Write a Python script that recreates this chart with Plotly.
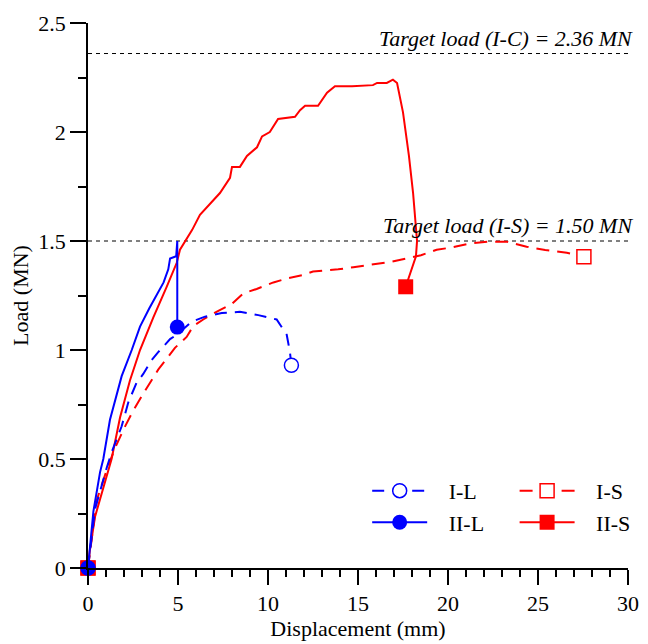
import plotly.graph_objects as go

# ---------------- data ----------------
# I-L (blue dashed, open circle)
il_x = [0, 0.39, 1.04, 1.31, 1.59, 1.87, 2.24, 2.7, 3.07, 3.5, 3.9, 4.56, 4.93,
        5.76, 6.5, 7.43, 8.44, 9.46, 10.48, 11.04, 11.22, 11.3]
il_y = [0, 0.27, 0.46, 0.53, 0.59, 0.65, 0.76, 0.85, 0.89, 0.95, 0.99, 1.05, 1.07,
        1.13, 1.153, 1.17, 1.175, 1.16, 1.14, 1.07, 0.99, 0.93]

# II-L (blue solid, filled circle)
iil_x = [0, 0.3, 0.67, 0.85, 1.22, 1.87, 2.43, 2.89, 3.4, 3.81, 4.2, 4.46, 4.56,
         4.9, 4.96, 4.96]
iil_y = [0, 0.26, 0.44, 0.5, 0.68, 0.88, 1.0, 1.107, 1.19, 1.25, 1.31, 1.37, 1.42,
         1.43, 1.50, 1.105]

# I-S (red dashed, open square)
is_x = [0, 0.48, 1.04, 1.5, 2.0, 2.5, 3.07, 3.54, 3.9, 4.28, 4.83,
        5.48, 5.85, 6.4, 7.24, 7.98, 8.63, 9.37, 10.3, 11.13, 11.96, 12.5, 13.9,
        14.74, 15.67, 16.87, 17.7, 18.5, 19.37, 20.2, 21.3, 22.3, 23.26, 24.37,
        25.4, 26.6, 27.55]
is_y = [0, 0.31, 0.45, 0.55, 0.64, 0.72, 0.80, 0.86, 0.91, 0.95, 1.01,
        1.06, 1.11, 1.14, 1.18, 1.21, 1.26, 1.28, 1.31, 1.33, 1.344, 1.36, 1.37,
        1.38, 1.39, 1.405, 1.42, 1.435, 1.46, 1.47, 1.49, 1.497, 1.497, 1.474,
        1.459, 1.446, 1.428]

# II-S (red solid, filled square)
iis_x = [0, 0.1, 0.39, 1.31, 1.78, 2.33, 2.89, 3.63, 4.37, 4.93, 5.11, 5.39, 5.78,
         6.22, 6.78, 7.33, 7.89, 8.0, 8.44, 8.83, 9.39, 9.67, 10.1, 10.56, 11.5,
         11.78, 12.06, 12.78, 13.28, 13.72, 14.67, 15.83, 16.06, 16.6, 16.94,
         17.17, 17.5, 17.83, 18.06, 18.28, 18.22, 17.9, 17.65]
iis_y = [0, 0.08, 0.235, 0.5, 0.69, 0.86, 1.0, 1.15, 1.29, 1.40, 1.46, 1.50, 1.55,
         1.62, 1.67, 1.72, 1.79, 1.84, 1.84, 1.89, 1.93, 1.98, 2.0, 2.06, 2.07,
         2.10, 2.12, 2.12, 2.18, 2.21, 2.21, 2.215, 2.225, 2.225, 2.24, 2.225,
         2.09, 1.89, 1.72, 1.50, 1.43, 1.35, 1.29]

target_loads = [2.36, 1.50]
target_labels = ["Target load (I-C) = 2.36 MN", "Target load (I-S) = 1.50 MN"]

x_ticks = [0, 5, 10, 15, 20, 25, 30]
y_ticks = [0, 0.5, 1, 1.5, 2, 2.5]

# ---------------- figure ----------------
FONT = "Liberation Serif, Times New Roman, serif"
BLUE = "#0000FF"
RED = "#FF0000"
CLEAR = "rgba(0,0,0,0)"
PAD = "\u00a0\u00a0\u00a0"


def end_only(n, c):
    # markers only at the first and last point of each curve
    return [c] + [CLEAR] * (n - 2) + [c]


fig = go.Figure()

fig.add_trace(go.Scatter(
    x=is_x, y=is_y, name=PAD + "I-S", mode="lines+markers", legend="legend2",
    line=dict(color=RED, width=2, dash="13px,8px"),
    marker=dict(symbol="square", size=14, color=end_only(len(is_x), "white"),
                line=dict(width=1.5, color=end_only(len(is_x), RED))),
    cliponaxis=False,
))
fig.add_trace(go.Scatter(
    x=iis_x, y=iis_y, name=PAD + "II-S", mode="lines+markers", legend="legend2",
    line=dict(color=RED, width=2),
    marker=dict(symbol="square", size=15, color=end_only(len(iis_x), RED),
                line=dict(width=0)),
    cliponaxis=False,
))
fig.add_trace(go.Scatter(
    x=il_x, y=il_y, name=PAD + "I-L", mode="lines+markers", legend="legend",
    line=dict(color=BLUE, width=2, dash="12px,8px"),
    marker=dict(symbol="circle", size=14, color=end_only(len(il_x), "white"),
                line=dict(width=1.5, color=end_only(len(il_x), BLUE))),
    cliponaxis=False,
))
fig.add_trace(go.Scatter(
    x=iil_x, y=iil_y, name=PAD + "II-L", mode="lines+markers", legend="legend",
    line=dict(color=BLUE, width=2),
    marker=dict(symbol="circle", size=15, color=end_only(len(iil_x), BLUE),
                line=dict(width=0)),
    cliponaxis=False,
))

for yv, lab in zip(target_loads, target_labels):
    fig.add_hline(y=yv, line=dict(color="black", width=1, dash="4px,4px"), layer="below")
    fig.add_annotation(
        x=1, xref="paper", y=yv, yref="y", text="<i>" + lab + "</i>",
        showarrow=False, xanchor="right", yanchor="bottom", xshift=7, yshift=1,
        font=dict(family=FONT, size=22, color="black"),
    )

axis_common = dict(
    showline=True, linecolor="black", linewidth=1.6, mirror=False,
    showgrid=False, zeroline=False, automargin=False,
    ticks="outside", tickwidth=1.6, tickcolor="black",
    tickfont=dict(family=FONT, size=22, color="black"),
)

fig.update_xaxes(
    range=[0, 30], tickvals=x_ticks, ticktext=[str(v) for v in x_ticks],
    ticklen=15,
    minor=dict(dtick=1, ticklen=7, tickwidth=1.6, tickcolor="black", ticks="outside"),
    title=dict(text="Displacement (mm)", font=dict(family=FONT, size=22, color="black"),
               standoff=2),
    **axis_common,
)
fig.update_yaxes(
    range=[0, 2.5], tickvals=y_ticks, ticktext=[f"{v:g}" for v in y_ticks],
    ticklen=16,
    minor=dict(dtick=0.25, ticklen=8, tickwidth=1.6, tickcolor="black", ticks="outside"),
    title=dict(text="Load (MN)", font=dict(family=FONT, size=22, color="black"),
               standoff=5),
    **axis_common,
)

legend_common = dict(
    bgcolor="rgba(0,0,0,0)", borderwidth=0, itemsizing="trace", itemwidth=55,
    font=dict(family=FONT, size=22, color="black"),
    xanchor="left", yanchor="top", traceorder="normal",
)

# the page body adds an 8 px offset, so the figure is sized 640x636
fig.update_layout(
    width=640, height=636,
    margin=dict(l=80, r=20, t=15, b=76),
    plot_bgcolor="white", paper_bgcolor="white",
    showlegend=True,
    legend=dict(x=0.517, y=0.18, **legend_common),
    legend2=dict(x=0.79, y=0.18, **legend_common),
)

fig.write_html("out.html")
